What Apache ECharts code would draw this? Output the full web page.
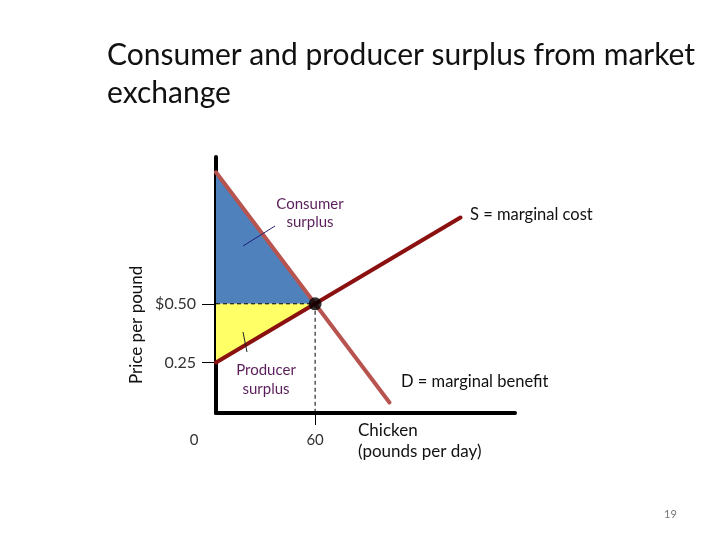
<!DOCTYPE html>
<html><head><meta charset="utf-8">
<script src="https://cdn.jsdelivr.net/npm/echarts@6/dist/echarts.min.js"></script>
<style>html,body{margin:0;padding:0;background:#fff}#c{width:720px;height:540px}</style>
</head><body><div id="c"></div>
<script>
// Data
var titleText = 'Consumer and producer surplus from market\nexchange';
var demandQ = [0, 105];
var demandP = [1.06, 0.08];
var supplyQ = [0, 148];
var supplyP = [0.25, 0.867];
var eqQ = 60, eqP = 0.50;
var yTickValues = [0.25, 0.50];
var yTickLabels = ['0.25', '$0.50'];
var xTickValues = [0, 60];
var xTickLabels = ['0', '60'];
var xMin = 0, xMax = 181, yMin = 0.035, yMax = 1.125;

var FONT = 'Lato, "Open Sans", sans-serif';
var chart = echarts.init(document.getElementById('c'));

function pairs(xs, ys){ return xs.map(function(x,i){return [x, ys[i]];}); }

var csPoly = [[0, demandP[0]], [eqQ, eqP], [0, eqP]];
var psPoly = [[0, eqP], [eqQ, eqP], [0, supplyP[0]]];

function polySeries(pts, color){
  return {
    type: 'custom', silent: true, z: 1,
    data: [0],
    renderItem: function(params, api){
      return { type: 'polygon', shape: { points: pts.map(function(p){ return api.coord(p); }) },
               style: { fill: color } };
    }
  };
}

var option = {
  animation: false,
  backgroundColor: '#fff',
  title: {
    text: titleText, left: 102, top: 31,
    textStyle: { fontFamily: FONT, fontSize: 30, fontWeight: 'normal', color: '#111', lineHeight: 38 }
  },
  grid: { left: 216, right: 205, top: 157, bottom: 127 },
  xAxis: {
    type: 'value', min: xMin, max: xMax,
    splitLine: { show: false },
    axisLine: { show: true, onZero: false, lineStyle: { color: '#000', width: 4 } },
    axisTick: { show: true, customValues: [eqQ], length: 12, lineStyle: { color: '#000', width: 1 } },
    axisLabel: {
      customValues: xTickValues, margin: 20, fontFamily: FONT, fontSize: 15, color: '#333',
      formatter: function(v){ var i = xTickValues.indexOf(v); var t = xTickLabels[i];
        return v === 0 ? '{z|' + t + '}' : t; },
      rich: { z: { padding: [0, 44, 0, 0], fontFamily: FONT, fontSize: 15, color: '#333' } }
    }
  },
  yAxis: {
    type: 'value', min: yMin, max: yMax,
    splitLine: { show: false },
    axisLine: { show: true, onZero: false, lineStyle: { color: '#000', width: 4 } },
    axisTick: { show: true, customValues: yTickValues, length: 14, lineStyle: { color: '#000', width: 1 } },
    axisLabel: {
      customValues: yTickValues, margin: 20, fontFamily: FONT, fontSize: 16, color: '#333',
      formatter: function(v){ var i = yTickValues.indexOf(v); return yTickLabels[i]; }
    }
  },
  graphic: [
    { type: 'text', rotation: Math.PI/2, style: { text: 'Price per pound', font: '17px ' + FONT, fill: '#111' }, z: 10, position: [128, 384] },
    { type: 'text', position: [358, 420], style: { text: 'Chicken\n(pounds per day)', font: '17px ' + FONT, fill: '#111', lineHeight: 21 } },
    { type: 'text', position: [310, 195], style: { text: 'Consumer\nsurplus', font: '15px ' + FONT, fill: '#5a1f5a', align: 'center', lineHeight: 18 } },
    { type: 'text', position: [266, 361], style: { text: 'Producer\nsurplus', font: '15px ' + FONT, fill: '#5a1f5a', align: 'center', lineHeight: 19 } },
    { type: 'line', shape: { x1: 243, y1: 246, x2: 275, y2: 226 }, style: { stroke: '#1f1f7a', lineWidth: 1 }, z: 10 },
    { type: 'line', shape: { x1: 243, y1: 332, x2: 247, y2: 352 }, style: { stroke: '#222', lineWidth: 1 }, z: 10 },
    { type: 'text', position: [470, 206], style: { text: 'S = marginal cost', font: '16.5px ' + FONT, fill: '#111' } },
    { type: 'text', position: [401, 373], style: { text: 'D = marginal benefit', font: '16.5px ' + FONT, fill: '#111' } },
    { type: 'text', position: [664, 509], style: { text: '19', font: '11px ' + FONT, fill: '#777' } }
  ],
  series: [
    polySeries(csPoly, '#4f81bd'),
    polySeries(psPoly, '#ffff66'),
    { type: 'line', data: [[0, eqP], [eqQ, eqP]], symbol: 'none', z: 3,
      lineStyle: { color: '#000', width: 1, type: [4, 3] } },
    { type: 'line', data: [[eqQ, eqP], [eqQ, yMin]], symbol: 'none', z: 3,
      lineStyle: { color: '#000', width: 1, type: [4, 3] } },
    { type: 'line', data: pairs(demandQ, demandP), symbol: 'none', z: 4,
      lineStyle: { color: '#b85450', width: 4, cap: 'round' } },
    { type: 'line', data: pairs(supplyQ, supplyP), symbol: 'none', z: 5,
      lineStyle: { color: '#8b1010', width: 4, cap: 'round' } },
    { type: 'scatter', data: [[eqQ, eqP]], symbolSize: 13, z: 6, itemStyle: { color: '#000' } }
  ]
};
chart.setOption(option);
</script></body></html>
